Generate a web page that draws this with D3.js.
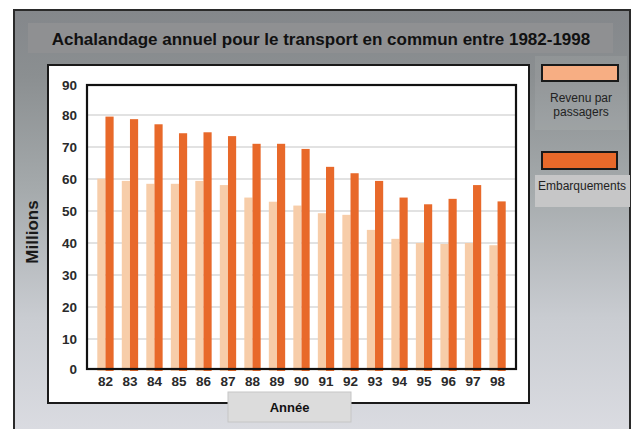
<!DOCTYPE html>
<html><head><meta charset="utf-8">
<script src="https://cdn.jsdelivr.net/npm/d3@7"></script>
<style>
html,body{margin:0;padding:0;background:#fff;}
svg{display:block;font-family:"Liberation Sans",Arial,sans-serif;}
</style></head>
<body>
<svg id="chart" width="632" height="429"></svg>
<script>
const years = ["82","83","84","85","86","87","88","89","90","91","92","93","94","95","96","97","98"];
const revenu = [60.1,59.4,58.5,58.5,59.4,58.1,54.2,52.9,51.7,49.3,48.8,44.1,41.3,40.0,39.7,40.0,39.3];
const embarquements = [79.5,78.7,77.1,74.3,74.6,73.4,71.0,71.0,69.4,63.8,61.8,59.4,54.2,52.1,53.8,58.1,53.0];
const yTicks = [0,10,20,30,40,50,60,70,80,90];
const seriesNames = ["Revenu par passagers","Embarquements"];
const title = "Achalandage annuel pour le transport en commun entre 1982-1998";

const svg = d3.select("#chart");
const defs = svg.append("defs");
const grad = defs.append("linearGradient").attr("id","bg").attr("x1",0).attr("y1",0).attr("x2",0).attr("y2",1);
[[0,"#84878b"],[0.15,"#8b8f91"],[0.4,"#a4a9ab"],[0.7,"#c9ccd1"],[1,"#dddee4"]]
  .forEach(([o,c])=>grad.append("stop").attr("offset",o).attr("stop-color",c));

// outer frame
svg.append("rect").attr("x",14).attr("y",10).attr("width",616).attr("height",440)
  .attr("fill","url(#bg)").attr("stroke","#2a2a2a").attr("stroke-width",2);

// title box
svg.append("rect").attr("x",28).attr("y",23).attr("width",585).attr("height",30)
  .attr("fill","#8f9092");
svg.append("text").attr("x",321).attr("y",44.5).attr("text-anchor","middle")
  .attr("font-size",17).attr("font-weight","bold").attr("fill","#111").text(title);

// white panel
svg.append("rect").attr("x",48).attr("y",65).attr("width",481).attr("height",338)
  .attr("fill","#fff").attr("stroke","#1a1a1a").attr("stroke-width",2);

const x = d3.scaleBand().domain(years).range([87,516]).paddingInner(1/3).paddingOuter(0.42);
const xs = d3.scaleBand().domain([0,1]).range([0,x.bandwidth()]);
const y = d3.scaleLinear().domain([0,90]).range([371,83]);

// gridlines
svg.append("g").selectAll("line").data(yTicks.filter(t=>t>0&&t<90)).join("line")
  .attr("x1",87).attr("x2",516).attr("y1",d=>y(d)).attr("y2",d=>y(d))
  .attr("stroke","#d9d9d9").attr("stroke-width",1.5);

// bars
const cols = ["#f7cda9","#e8692a"];
const g = svg.append("g");
years.forEach((yr,i)=>{
  [revenu[i],embarquements[i]].forEach((v,j)=>{
    g.append("rect").attr("x",x(yr)+xs(j)).attr("width",xs.bandwidth())
      .attr("y",y(v)).attr("height",y(0)-y(v)).attr("fill",cols[j]);
  });
});

// plot frame
svg.append("rect").attr("x",87).attr("y",85).attr("width",429).attr("height",284)
  .attr("fill","none").attr("stroke","#111").attr("stroke-width",2.2);

// y axis
const yAxis = d3.axisLeft(y).tickValues(yTicks).tickSize(0).tickPadding(10);
const ya = svg.append("g").attr("transform","translate(77,0)").call(yAxis);
ya.select(".domain").remove();
ya.selectAll("text").attr("x",0).attr("font-size",13.5).attr("font-weight","bold")
  .attr("fill","#2a2a2a").attr("font-family","Liberation Sans, Arial, sans-serif")
  .attr("dy","0.35em").attr("y",d=>d===90?2:(d===0?-2:0));

// x axis
const xAxis = d3.axisBottom(x).tickSize(0).tickPadding(0);
const xa = svg.append("g").attr("transform","translate(0,376)").call(xAxis);
xa.select(".domain").remove();
xa.selectAll("text").attr("font-size",13.5).attr("font-weight","bold").attr("fill","#2a2a2a")
  .attr("font-family","Liberation Sans, Arial, sans-serif").attr("dy","0.71em");

// y title
svg.append("text").attr("transform","translate(38,232) rotate(-90)").attr("text-anchor","middle")
  .attr("font-size",17).attr("font-weight","bold").attr("fill","#1a1a1a").text("Millions");

// x title box
svg.append("rect").attr("x",228).attr("y",392).attr("width",123).attr("height",30)
  .attr("fill","#dcdcdc").attr("stroke","#c6c6c6").attr("stroke-width",1);
svg.append("text").attr("x",289.5).attr("y",412).attr("text-anchor","middle")
  .attr("font-size",13).attr("font-weight","bold").attr("fill","#111").text("Année");

// legend
svg.append("rect").attr("x",535).attr("y",56).attr("width",92).attr("height",74)
  .attr("fill","#ffffff").attr("fill-opacity",0.07);
svg.append("rect").attr("x",542).attr("y",65).attr("width",76).attr("height",16)
  .attr("fill","#f7ae83").attr("stroke","#1a1a1a").attr("stroke-width",2);
svg.append("text").attr("x",581).attr("y",102).attr("text-anchor","middle")
  .attr("font-size",12).attr("fill","#222").text("Revenu par");
svg.append("text").attr("x",581).attr("y",116).attr("text-anchor","middle")
  .attr("font-size",12).attr("fill","#222").text("passagers");

svg.append("rect").attr("x",542).attr("y",152).attr("width",75).attr("height",17)
  .attr("fill","#e8692a").attr("stroke","#1a1a1a").attr("stroke-width",2);
svg.append("rect").attr("x",535).attr("y",175).attr("width",95).attr("height",32)
  .attr("fill","#c6c6c7");
svg.append("text").attr("x",582).attr("y",190).attr("text-anchor","middle")
  .attr("font-size",12).attr("fill","#222").text("Embarquements");
</script>
</body></html>
